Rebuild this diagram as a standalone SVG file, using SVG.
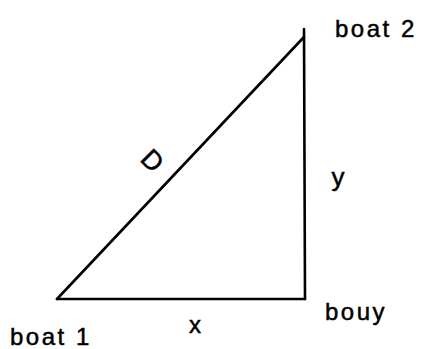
<svg xmlns="http://www.w3.org/2000/svg" width="422" height="349" viewBox="0 0 422 349">
<style>
.edge{stroke:#000;stroke-width:2.6;fill:none;stroke-linecap:round}
.lbl{font-family:"Liberation Sans","DejaVu Sans",sans-serif;fill:#000;stroke:#000;stroke-width:0.5;font-size:24px;letter-spacing:2.5px}
</style>
<rect width="422" height="349" fill="#fff"/>
<g id="connectors">
<path class="edge" d="M57 299 L304 37"/>
<path class="edge" d="M57 299 L305 299"/>
<path class="edge" d="M304 29 L305 299"/>
</g>
<g id="boat1"><text class="lbl" x="10" y="345">boat 1</text></g>
<g id="boat2"><text class="lbl" x="335" y="37">boat 2</text></g>
<g id="bouy"><text class="lbl" x="325" y="320">bouy</text></g>
<g id="labelD"><text class="lbl" x="153" y="170" style="font-size:27px;letter-spacing:0" text-anchor="middle" transform="rotate(45 153 160)">D</text></g>
<g id="labelY"><text class="lbl" x="338" y="186" style="font-size:26px;letter-spacing:0" text-anchor="middle">y</text></g>
<g id="labelX"><text class="lbl" x="195" y="333" style="letter-spacing:0" text-anchor="middle">x</text></g>
</svg>
